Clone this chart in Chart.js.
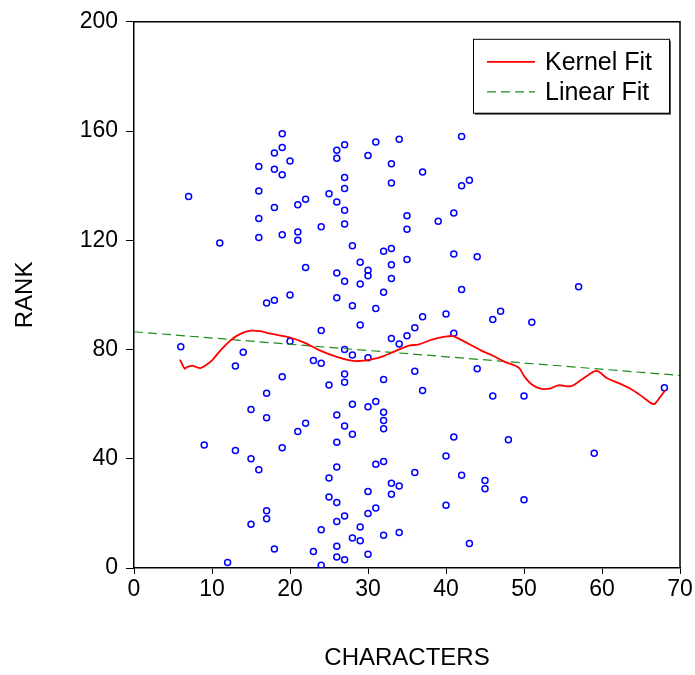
<!DOCTYPE html>
<html>
<head>
<meta charset="utf-8">
<script src="https://cdn.jsdelivr.net/npm/chart.js@4.4.0/dist/chart.umd.min.js"></script>
<style>
  html, body { margin: 0; padding: 0; background: #fff; }
</style>
</head>
<body>
<canvas id="grafico" width="695" height="675"></canvas>
<script>
// pontos: numero de caracteres x rank
var caracteres = [
  6, 7, 9, 11, 12, 13, 13, 14, 15, 15, 15,
  16, 16, 16, 16, 16, 17, 17, 17, 17, 17,
  18, 18, 18, 18, 18, 19, 19, 19, 19, 19, 19,
  20, 20, 20, 21, 21, 21, 21, 22, 22, 22, 23, 23,
  24, 24, 24, 24, 24, 25, 25, 25, 25,
  26, 26, 26, 26, 26, 26, 26, 26, 26, 26, 26, 26,
  27, 27, 27, 27, 27, 27, 27, 27, 27, 27, 27, 27,
  28, 28, 28, 28, 28, 28, 29, 29, 29, 29, 29,
  30, 30, 30, 30, 30, 30, 30, 30, 31, 31, 31, 31, 31,
  32, 32, 32, 32, 32, 32, 32, 32, 33, 33, 33, 33, 33, 33, 33, 33,
  34, 34, 34, 34, 35, 35, 35, 35, 36, 36, 36, 37, 37, 37,
  39, 40, 40, 40, 41, 41, 41, 41, 42, 42, 42, 42, 43, 43,
  44, 44, 45, 45, 46, 46, 47, 48, 50, 50, 51, 57, 59, 68
];
var rank = [
  81, 136, 45, 119, 2, 74, 43, 79, 58, 40, 16,
  147, 138, 128, 121, 36, 97, 64, 55, 21, 18,
  152, 146, 132, 98, 7, 159, 154, 144, 122, 70, 44,
  149, 100, 83, 133, 123, 120, 50, 135, 110, 53, 76, 6,
  125, 87, 75, 14, 1, 137, 67, 33, 26,
  153, 150, 134, 108, 99, 56, 46, 37, 24, 17, 8, 4,
  155, 143, 139, 131, 126, 105, 80, 71, 68, 52, 19, 3,
  118, 96, 78, 60, 49, 11, 112, 104, 89, 15, 10,
  151, 109, 107, 77, 59, 28, 20, 5, 156, 95, 61, 38, 22,
  116, 101, 69, 57, 54, 51, 39, 12, 148, 141, 117, 111, 106, 84, 31, 27,
  157, 82, 30, 13, 129, 124, 113, 85, 88, 72, 35, 145, 92, 65,
  127, 93, 41, 23, 130, 115, 86, 48, 158, 140, 102, 34, 142, 9,
  114, 73, 32, 29, 91, 63, 94, 47, 63, 25, 90, 103, 42, 66
];

// curva kernel
var kernelX = [5.9, 6.5, 6.8, 7.5, 8.5, 9.2, 10.0, 11.1, 12.4, 13.7, 15.0, 16.2, 17.5,
  20.0, 21.7, 23.8, 26.0, 27.7, 28.8, 30.3, 32.0, 33.7, 35.4, 36.4, 38.2, 39.9, 40.9,
  41.8, 43.3, 44.6, 45.9, 47.6, 49.3, 50.1, 51.0, 52.1, 53.3, 54.4, 55.9, 56.5, 57.6,
  59.3, 60.6, 62.3, 63.6, 64.9, 66.4, 66.8, 68.1];
var kernelY = [76.3, 73.0, 73.6, 74.0, 73.2, 74.2, 76.0, 79.7, 83.4, 85.8, 86.9, 86.7, 85.8,
  84.4, 82.7, 79.7, 77.3, 76.0, 75.8, 76.3, 77.6, 79.7, 81.5, 81.8, 83.6, 84.7, 84.9,
  83.7, 81.5, 79.5, 77.9, 75.4, 73.4, 69.9, 67.2, 65.7, 65.7, 66.9, 66.5, 67.2, 69.4,
  72.2, 69.6, 67.5, 65.7, 63.3, 60.2, 60.2, 65.1];

// reta de ajuste linear
var linearX = [0, 70];
var linearY = [86.5, 70.5];

var fonte = "'Liberation Sans', Arial, sans-serif";

function pares(xs, ys) {
  var saida = [];
  for (var i = 0; i < xs.length; i++) {
    saida.push({ x: xs[i], y: ys[i] });
  }
  return saida;
}

// moldura (topo e direita) e legenda em caixa
const moldura = {
  id: "moldura",
  afterDraw(chart) {
    const ctx = chart.ctx;
    const a = chart.chartArea;
    ctx.save();
    ctx.strokeStyle = "#000";
    ctx.lineWidth = 1.5;
    ctx.beginPath();
    ctx.moveTo(a.left, a.top);
    ctx.lineTo(a.right, a.top);
    ctx.lineTo(a.right, a.bottom);
    ctx.stroke();

    var x0 = a.right - 207, y0 = a.top + 17, w = 196, h = 74;
    ctx.fillStyle = "#555";
    ctx.fillRect(x0 + 2, y0 + 2, w, h);
    ctx.fillStyle = "#fff";
    ctx.fillRect(x0, y0, w, h);
    ctx.lineWidth = 1;
    ctx.strokeStyle = "#000";
    ctx.strokeRect(x0 + 0.5, y0 + 0.5, w, h);

    var itens = chart.data.datasets.filter(function (d) { return d.naLegenda; });
    ctx.font = "25px " + fonte;
    ctx.textBaseline = "middle";
    ctx.fillStyle = "#000";
    for (var i = 0; i < itens.length; i++) {
      var yy = y0 + 23 + i * 30;
      ctx.strokeStyle = itens[i].borderColor;
      ctx.lineWidth = itens[i].borderWidth;
      ctx.setLineDash(itens[i].borderDash || []);
      ctx.beginPath();
      ctx.moveTo(x0 + 14, yy);
      ctx.lineTo(x0 + 62, yy);
      ctx.stroke();
      ctx.setLineDash([]);
      ctx.fillText(itens[i].label, x0 + 72, yy + 1);
    }
    ctx.restore();
  }
};

const data = {
  datasets: [
    {
      label: "RANK",
      data: pares(caracteres, rank),
      pointStyle: "circle",
      pointRadius: 3,
      pointBorderWidth: 1.5,
      borderColor: "#0000ff",
      backgroundColor: "rgba(0,0,0,0)",
      showLine: false,
      order: 3,
    },
    {
      label: "Kernel Fit",
      naLegenda: true,
      data: pares(kernelX, kernelY),
      showLine: true,
      borderColor: "#ff0000",
      borderWidth: 1.8,
      pointRadius: 0,
      tension: 0.3,
      order: 1,
    },
    {
      label: "Linear Fit",
      naLegenda: true,
      data: pares(linearX, linearY),
      showLine: true,
      borderColor: "#1e8c1e",
      borderWidth: 1.2,
      borderDash: [9, 5],
      pointRadius: 0,
      order: 2,
    },
  ],
};

const config = {
  type: "scatter",
  data: data,
  options: {
    responsive: false,
    animation: false,
    layout: { padding: { left: 0, right: 15, top: 21, bottom: 0 } },
    plugins: {
      legend: { display: false },
      tooltip: { enabled: false },
    },
    scales: {
      x: {
        type: "linear",
        min: 0,
        max: 70,
        ticks: { stepSize: 10, color: "#000", padding: 2, font: { family: fonte, size: 23 } },
        grid: { drawOnChartArea: false, drawTicks: true, tickLength: 6, color: "#000" },
        border: { display: true, color: "#000", width: 1.5 },
        title: { display: true, text: "CHARACTERS", color: "#000", font: { family: fonte, size: 24 }, padding: { top: 0, bottom: 2 } },
        afterFit: function (s) { s.height = 107; },
      },
      y: {
        min: 0,
        max: 200,
        ticks: { stepSize: 40, color: "#000", padding: 8, font: { family: fonte, size: 23 } },
        grid: { drawOnChartArea: false, drawTicks: true, tickLength: 8, color: "#000" },
        border: { display: true, color: "#000", width: 1.5 },
        title: { display: true, text: "RANK", color: "#000", font: { family: fonte, size: 24 }, padding: { top: 11, bottom: 0 } },
        afterFit: function (s) { s.width = 134; },
      },
    },
  },
  plugins: [moldura],
};

new Chart(document.getElementById("grafico"), config);
</script>
</body>
</html>
